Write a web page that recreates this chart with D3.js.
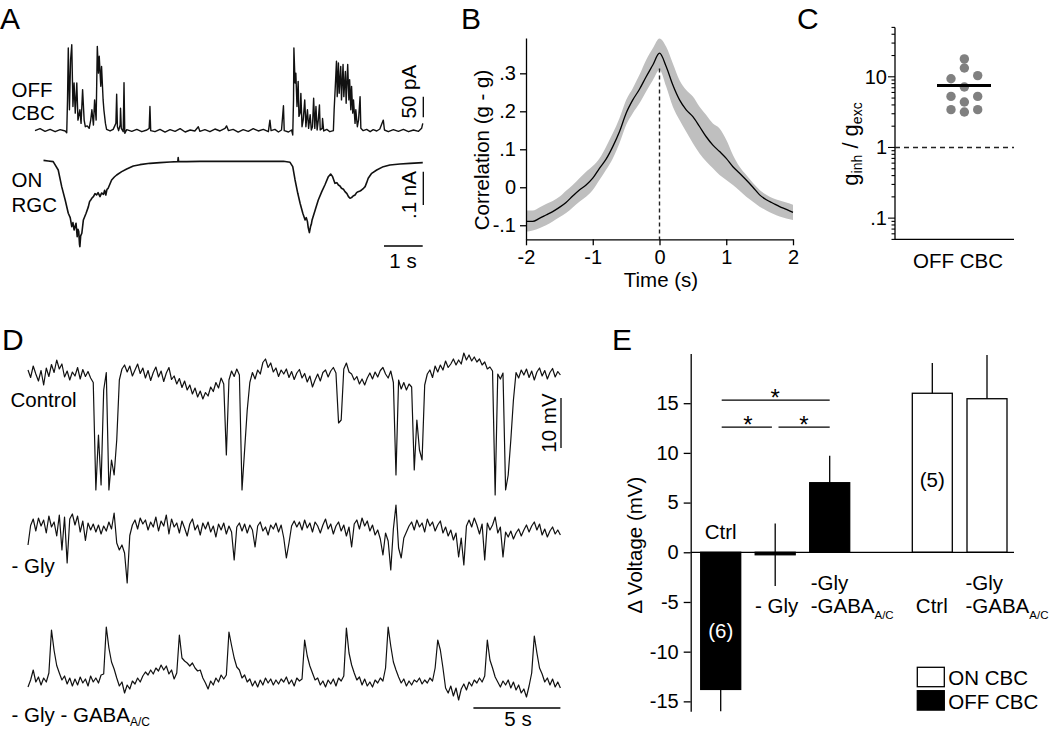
<!DOCTYPE html>
<html><head><meta charset="utf-8">
<script src="https://cdn.jsdelivr.net/npm/d3@7"></script>
<style>body{margin:0;background:#fff}svg{display:block}</style>
</head><body><svg id="fig" width="1050" height="730"></svg>
<script>
// ---------------- DATA ----------------
// Panel A: OFF CBC current trace [time s, pA]
const offCBC = [[0.00,-1.6],[0.13,3.3],[0.26,-3.3],[0.39,1.6],[0.52,-4.1],[0.65,0.8],[0.78,-2.4],[0.82,-6.5],
[0.84,73],[0.86,199],[0.89,49],[0.92,171],[0.95,207],[0.98,57],[1.01,114],[1.04,41],[1.08,114],[1.11,24],[1.16,49],[1.19,16],[1.23,98],[1.27,24],[1.30,8],[1.35,10],[1.40,4],[1.44,24],[1.47,49],[1.51,12],[1.54,73],[1.58,24],[1.61,203],[1.64,138],[1.66,179],[1.70,106],[1.72,154],[1.76,73],[1.78,49],[1.82,16],[1.85,1.6],[1.94,-2.4],[2.02,1.6],[2.09,16],[2.11,87],[2.13,8],[2.16,-1.6],[2.20,12],[2.21,53],[2.23,4],[2.28,-4.1],[2.30,115],[2.32,-8],[2.37,0.8],[2.50,-3.3],[2.63,1.6],[2.76,-4.1],[2.89,0],[2.95,4],[2.97,57],[2.99,-1.6],[3.10,-4.1],
[3.23,1.6],[3.36,-4.9],[3.49,0.8],[3.62,-3.3],[3.75,3.3],[3.88,-4.9],[4.01,0],[4.13,-2.4],[4.22,8],[4.26,-3.3],[4.39,0.8],[4.52,-4.1],[4.65,2.4],[4.78,-2.4],[4.91,4],[4.95,10],[5.00,-1.6],[5.12,1.6],[5.25,-4.9],[5.38,0.8],[5.51,-3.3],[5.64,3.3],[5.77,-2.4],[5.90,1.6],[6.03,-4.1],[6.07,24],[6.10,-1.6],[6.20,1.6],[6.29,-4.9],[6.37,0],[6.42,59],[6.44,-1.6],[6.55,-4.9],[6.63,0],[6.66,-12],[6.68,73],[6.69,199],[6.72,114],[6.74,138],[6.77,57],[6.80,118],[6.82,33],[6.85,41],[6.87,89],[6.90,8],[6.93,24],[6.97,73],[7.00,8],[7.04,49],[7.07,4],[7.11,37],[7.14,0],[7.17,8],[7.20,77],[7.23,4],[7.26,57],[7.29,0],[7.32,24],[7.35,61],[7.37,0],[7.42,4],[7.43,28],[7.46,-2.4],[7.54,1.6],[7.62,-4.1],[7.71,-1.6],[7.73,49],[7.76,106],[7.79,167],[7.81,81],[7.84,163],[7.86,89],[7.90,154],[7.92,73],[7.96,159],[7.98,81],[8.02,142],[8.04,65],[8.08,159],[8.11,73],[8.13,122],[8.16,49],[8.18,106],[8.21,41],[8.23,73],[8.27,16],[8.29,49],[8.33,8],[8.36,24],[8.40,81],[8.42,4],[8.48,-1.6],[8.57,1.6],[8.66,-4.1],[8.74,0.8],[8.83,-2.4],[8.91,2.4],[9.00,24],[9.03,0],[9.13,-4.1],[9.26,0.8],[9.39,-3.3],[9.52,1.6],[9.65,-4.1],[9.78,0],[9.91,-3.3],[9.99,4],[10.02,16]];
// Panel A: ON RGC current trace [time s, pA]
const onRGC = [[0.22,2],[0.34,0],[0.47,-2],[0.60,-27],[0.69,-77],[0.78,-117],[0.86,-157],[0.91,-170],[0.95,-197],[0.98,-185],[1.01,-207],[1.04,-195],[1.06,-187],[1.09,-227],[1.11,-205],[1.13,-212],[1.15,-250],[1.16,-257],[1.18,-225],[1.21,-217],[1.25,-177],[1.32,-157],[1.38,-137],[1.41,-122],[1.44,-117],[1.48,-110],[1.51,-107],[1.55,-98],[1.59,-102],[1.63,-95],[1.68,-107],[1.72,-96],[1.77,-100],[1.80,-88],[1.83,-102],[1.86,-85],[1.89,-82],[1.98,-57],[2.05,-48],[2.11,-42],[2.24,-32],[2.37,-24],[2.54,-15],[2.71,-11],[2.97,-7],[3.23,-5],[3.49,-3],[3.69,-2],[3.70,10],[3.71,-2],[3.92,-2],[4.26,-1],[4.69,-1],[5.12,-1],[5.56,-1],[5.99,-1],[6.42,-1],[6.59,-4],[6.66,-17],[6.72,-57],[6.79,-97],[6.85,-127],[6.92,-157],[6.98,-177],[7.01,-170],[7.04,-182],[7.06,-200],[7.09,-215],[7.12,-197],[7.14,-190],[7.16,-177],[7.24,-147],[7.32,-117],[7.41,-92],[7.49,-72],[7.58,-47],[7.64,-39],[7.69,-47],[7.75,-67],[7.80,-65],[7.84,-72],[7.88,-75],[7.92,-82],[7.97,-85],[8.01,-92],[8.06,-98],[8.10,-107],[8.14,-112],[8.18,-110],[8.22,-105],[8.27,-102],[8.31,-95],[8.35,-92],[8.40,-90],[8.44,-87],[8.49,-82],[8.53,-77],[8.57,-65],[8.61,-52],[8.70,-37],[8.83,-27],[9.00,-17],[9.17,-12],[9.43,-9],[9.69,-7],[10.02,-5]];

// Panel B: cross-correlation (time lag, mean, upper and lower SEM)
const corrT = [-2,-1.9,-1.8,-1.7,-1.6,-1.5,-1.4,-1.3,-1.2,-1.1,-1,-0.9,-0.8,-0.7,-0.6,-0.5,-0.4,-0.3,-0.2,-0.1,0,0.1,0.2,0.3,0.4,0.5,0.6,0.7,0.8,0.9,1,1.1,1.2,1.3,1.4,1.5,1.6,1.7,1.8,1.9,2];
const corrMean = [-0.090,-0.090,-0.082,-0.073,-0.064,-0.053,-0.040,-0.023,-0.007,0.006,0.024,0.050,0.074,0.107,0.146,0.195,0.230,0.258,0.291,0.322,0.353,0.318,0.269,0.230,0.204,0.186,0.160,0.133,0.111,0.094,0.076,0.054,0.037,0.019,0.000,-0.020,-0.033,-0.042,-0.051,-0.058,-0.066];
const corrHi = [-0.061,-0.061,-0.053,-0.044,-0.036,-0.025,-0.009,0.006,0.024,0.041,0.056,0.076,0.107,0.142,0.182,0.230,0.261,0.296,0.335,0.366,0.392,0.370,0.326,0.282,0.256,0.239,0.212,0.190,0.168,0.155,0.125,0.085,0.054,0.032,0.011,-0.007,-0.020,-0.029,-0.035,-0.040,-0.046];
const corrLo = [-0.117,-0.114,-0.108,-0.100,-0.090,-0.079,-0.068,-0.053,-0.038,-0.025,-0.007,0.019,0.046,0.076,0.116,0.164,0.195,0.221,0.252,0.282,0.309,0.265,0.212,0.177,0.146,0.116,0.089,0.068,0.050,0.032,0.019,0.006,-0.009,-0.025,-0.038,-0.051,-0.061,-0.070,-0.077,-0.082,-0.086];
const corrTicksX = [-2,-1,0,1,2];
const corrTicksY = [-0.1,0,0.1,0.2,0.3];

// Panel C: ginh/gexc ratios, swarm column of each cell, and mean
const ratio = [17.9,13.3,9.37,10.4,7.16,5.28,5.28,4.40,3.43,3.18,3.43];
const ratioCol = [0,0,-1,1,0,-1,1,0,-1,0,1];
const ratioMean = 7.55;
const ratioTicks = [0.1,1,10];
const ratioTickLabels = ['.1','1','10'];

// Panel D: membrane voltage traces (mV re. resting level), sampled every 0.15 s
const dtD = 0.15;
const vCtrl = [1.0,-0.5,1.8,0.2,-1.2,0.9,-2.0,1.4,-0.3,2.1,
0.5,3.0,1.2,2.2,-0.4,0.8,-1.0,0.6,-0.2,1.5,
-0.8,1.1,-0.3,0.7,-0.6,-1.5,-23,-12,-22,-3,
0.5,-23,-17,-20,-13,-1,1.2,2.0,0.6,1.8,
-0.2,1.0,2.2,0.3,1.4,-0.6,0.9,-1.1,0.5,1.6,
-0.4,0.8,-1.3,0.4,1.5,-0.9,-0.2,-1.8,-0.7,-2.5,
-1.2,-3.0,-2.0,-3.8,-2.6,-4.4,-3.2,-4.8,-3.5,-4.2,
-2.4,-3.3,-1.5,-2.6,-0.6,-1.8,-16,-1.0,0.8,-0.3,
1.2,0.0,-23,-15,-7,-1.5,0.5,-0.8,1.0,0.2,
2.5,3.2,1.5,2.4,0.6,1.4,-0.3,1.0,0.2,1.2,
-0.5,0.7,-0.9,0.4,1.1,-0.6,0.3,-1.4,-0.2,-2.4,
-1.0,0.2,-1.2,0.5,1.0,-0.4,0.8,1.5,0.4,-9.6,
-9.0,1.2,2.4,0.6,0.2,-1.0,-0.3,-1.8,-0.8,-2.0,
-0.6,0.4,-0.8,0.6,-0.4,0.9,1.5,0.2,-0.6,0.8,
-1.5,-20,-1.0,-2.8,-1.5,-3.0,-1.8,-2.4,-19,-9,
-15,-17,-2,0.2,1.0,-0.5,1.8,0.6,2.0,1.0,
2.8,1.5,2.2,3.2,2.0,3.0,2.2,4.4,3.0,4.0,
2.8,3.6,2.6,3.2,2.0,2.6,1.2,1.6,0.8,-24,
0.2,-0.8,0.4,-23,-20,-13,-5,0.5,-0.6,1.0,
0.0,1.2,-0.5,0.8,-1.0,0.6,1.4,-0.2,0.9,-0.8,
0.5,1.3,-0.4,0.7,0.0];
const vGly = [-3.4,0.5,1.8,-0.6,2.0,0.4,1.6,-1.0,2.4,0.2,
1.2,-1.6,2.6,-4.4,2.2,-7,1.8,2.8,0.6,2.4,
-0.8,1.4,-2.5,1.0,-0.4,0.8,-0.8,0.6,-1.2,0.4,
-0.6,1.2,-0.2,3.0,-3.0,-4.4,-3.4,-5.0,-11,-1.5,
0.6,1.6,-0.2,2.0,0.8,1.6,-0.4,1.2,0.2,2.2,
-0.6,1.4,0.4,2.6,-1.2,1.8,0.2,1.0,-1.0,1.4,
0.0,-1.6,0.8,1.8,-0.4,0.6,-1.4,1.0,-0.2,1.2,
-0.8,0.4,-1.8,0.8,-0.4,1.0,-1.2,0.4,-0.8,-6.4,
0.2,1.0,-0.6,0.8,-1.0,0.6,-0.4,-3.8,0.4,1.2,
-0.6,0.2,-1.4,0.6,-0.2,1.0,-0.8,0.6,-2.0,-6.0,
-3.0,0.4,1.4,0.2,1.2,-0.4,1.6,0.0,1.0,-0.8,
1.2,0.4,-1.0,0.6,1.8,-0.2,0.8,-1.2,0.4,1.2,
-0.6,0.6,-1.6,0.2,-3.8,0.8,1.6,-0.2,2.0,0.4,
1.4,-0.6,0.6,-1.4,-0.4,-2.2,-5.4,-1.0,-2.6,-8.4,
-0.2,4.6,-4.0,-6.0,-2.0,-0.8,0.4,1.2,-0.4,1.6,
0.2,1.0,-0.8,1.8,0.4,1.2,-0.6,0.6,1.4,-1.0,
0.2,-1.6,-0.4,-2.4,-1.0,-5.8,-2.0,-7.4,0.4,1.6,
0.2,2.0,0.6,-1.2,0.8,-6.4,1.0,-0.4,0.6,2.2,
-1.0,0.2,-5.8,-0.8,-1.8,-0.6,-2.2,-1.0,-0.2,-1.6,
-0.4,0.6,-0.8,0.4,1.2,-0.4,0.8,-1.4,-0.2,-1.8,
-0.6,0.2,-1.2,-0.4,-1.4];
const vGlyGaba = [-0.8,0.6,2.6,0.2,1.2,-0.4,1.0,0.2,2.0,10.6,
6.5,3.5,2.0,0.6,1.4,-0.2,1.0,-0.6,0.8,-0.4,
1.2,0.0,0.8,-0.6,1.4,0.2,1.0,0.0,1.6,1.8,
11.2,7.0,4.2,2.8,1.0,-0.6,0.2,-2.0,-0.4,-1.2,
0.4,-0.2,1.0,0.2,1.4,2.2,1.6,2.6,1.8,3.0,
2.4,3.6,2.6,3.4,1.8,2.6,0.8,2.0,9.6,5.0,
4.4,4.0,3.4,4.0,3.0,2.4,2.6,1.0,0.0,-1.2,
0.4,-0.4,1.0,0.2,1.6,0.8,1.6,10.2,7.5,5.0,
3.2,2.6,1.0,1.6,0.2,0.8,-0.6,0.4,-0.8,0.6,
-0.4,1.0,0.0,0.8,-0.4,0.6,-0.2,0.8,0.2,1.2,
-0.2,0.6,-0.6,1.0,0.4,0.8,8.6,5.4,3.4,2.0,
0.6,1.0,-0.4,0.4,-0.8,0.6,-0.2,0.8,-0.6,1.0,
0.4,1.4,11.0,6.0,3.6,2.0,0.6,1.2,-0.4,0.8,
-0.6,0.2,-0.8,0.6,0.0,1.0,0.4,3.0,11.2,7.4,
4.2,2.6,1.2,0.0,0.8,-0.6,0.4,-0.4,0.6,0.2,
1.0,-0.2,0.6,0.0,1.0,0.4,3.0,8.6,6.6,3.0,
-1.0,-2.0,-0.6,-2.6,-1.0,-3.4,-1.2,-0.2,-1.4,0.2,
-0.6,0.6,0.0,1.0,0.2,1.4,8.6,4.6,3.0,1.2,
0.2,-0.8,0.4,-0.4,0.6,-1.0,0.2,-1.4,-0.4,-2.0,
-1.2,-2.8,-0.6,2.0,9.4,6.0,3.0,1.8,0.2,1.0,
-0.4,0.8,-0.8,0.2,-1.0];

// Panel E: change in voltage (mV) mean and SEM
const offConds = ['Ctrl','- Gly','-Gly -GABA'];
const offMean = [-13.8,-0.25,7.0];
const offSem = [2.2,3.15,2.7];
const onConds = ['Ctrl','-Gly -GABA'];
const onMean = [16.0,15.45];
const onSem = [3.05,4.4];
const offN = '(6)', onN = '(5)';
const voltTicks = [-15,-10,-5,0,5,10,15];
const legendItems = ['ON CBC','OFF CBC'];

// ---------------- DRAWING ----------------
const FONT = '"Liberation Sans", Arial, Helvetica, sans-serif';
const FS = 20.5, TFS = 20;
const svg = d3.select('#fig');
svg.append('rect').attr('width',1050).attr('height',730).attr('fill','#fff');

function txt(x,y,s,opt={}){
  const t = svg.append('text').attr('x',x).attr('y',y).text(s)
    .attr('font-family',FONT).attr('font-size',opt.fs||FS)
    .attr('fill',opt.fill||'#000').attr('text-anchor',opt.anchor||'start');
  if(opt.rot) t.attr('transform',`rotate(-90,${x},${y})`);
  return t;
}
function styleAxis(g,fs){
  g.attr('font-family',FONT).attr('font-size',fs);
  g.selectAll('path.domain').attr('stroke','#000').attr('stroke-width',1.3);
  g.selectAll('.tick line').attr('stroke','#000').attr('stroke-width',1.3);
  g.selectAll('.tick text').attr('fill','#000');
}
const fmtDot = d => d===0 ? '0' : (d<0?'-':'') + String(Math.abs(d)).replace(/^0/,'');
const fmtInt = d => String(d);

// panel letters
[['A',0,29],['B',461,29],['C',797,29],['D',2,350],['E',612,350]].forEach(p=>txt(p[1],p[2],p[0],{fs:30}));

// ===== Panel A =====
const xA = d3.scaleLinear().domain([0,10]).range([35,422]);
const yOff = d3.scaleLinear().domain([0,50]).range([130,109.4]);
const yOn = d3.scaleLinear().domain([0,-100]).range([161,194.3]);
svg.append('path').datum(offCBC)
  .attr('d',d3.line().x(d=>xA(d[0])).y(d=>yOff(d[1])))
  .attr('fill','none').attr('stroke','#111').attr('stroke-width',1.4).attr('stroke-linejoin','round');
svg.append('path').datum(onRGC)
  .attr('d',d3.line().x(d=>xA(d[0])).y(d=>yOn(d[1])))
  .attr('fill','none').attr('stroke','#111').attr('stroke-width',1.6).attr('stroke-linejoin','round');
txt(11.5,97,'OFF'); txt(11.5,120,'CBC');
txt(11.5,187,'ON'); txt(11.5,212,'RGC');
// scale bars
const bar50 = yOff(0)-yOff(50), bar100 = yOn(-100)-yOn(0), bar1s = xA(1)-xA(0);
svg.append('line').attr('x1',423.3).attr('x2',423.3).attr('y1',117.3).attr('y2',117.3-bar50).attr('stroke','#000').attr('stroke-width',1.3);
svg.append('line').attr('x1',423.3).attr('x2',423.3).attr('y1',171.7).attr('y2',171.7+bar100).attr('stroke','#000').attr('stroke-width',1.3);
svg.append('line').attr('x1',422.7-bar1s).attr('x2',422.7).attr('y1',246).attr('y2',246).attr('stroke','#000').attr('stroke-width',1.3);
txt(416,91.7,'50 pA',{anchor:'middle',rot:true});
txt(416,195,'.1 nA',{anchor:'middle',rot:true});
txt(403,268,'1 s',{anchor:'middle'});

// ===== Panel B =====
const xB = d3.scaleLinear().domain([-2,2]).range([526,793]);
const yB = d3.scaleLinear().domain([-0.137,0.393]).range([239.3,38]);
const corr = corrT.map((t,i)=>({t,m:corrMean[i],hi:corrHi[i],lo:corrLo[i]}));
svg.append('path').datum(corr)
  .attr('d',d3.area().x(d=>xB(d.t)).y0(d=>yB(d.lo)).y1(d=>yB(d.hi)).curve(d3.curveMonotoneX))
  .attr('fill','#bfbfbf').attr('stroke','none');
svg.append('path').datum(corr)
  .attr('d',d3.line().x(d=>xB(d.t)).y(d=>yB(d.m)).curve(d3.curveMonotoneX))
  .attr('fill','none').attr('stroke','#000').attr('stroke-width',1.3);
svg.append('line').attr('x1',xB(0)).attr('x2',xB(0)).attr('y1',yB(0.313)).attr('y2',yB(-0.137))
  .attr('stroke','#222').attr('stroke-width',1.4).attr('stroke-dasharray','4,3');
const gBx = svg.append('g').attr('transform',`translate(0,${yB(-0.137)})`)
  .call(d3.axisBottom(xB).tickValues(corrTicksX).tickFormat(fmtInt).tickSize(6).tickSizeOuter(0).tickPadding(5));
styleAxis(gBx,TFS);
const gBy = svg.append('g').attr('transform',`translate(${xB(-2)},0)`)
  .call(d3.axisLeft(yB).tickValues(corrTicksY).tickFormat(fmtDot).tickSize(6).tickSizeOuter(0).tickPadding(4));
styleAxis(gBy,TFS);
txt(661,287,'Time (s)',{anchor:'middle'});
txt(489,150,'Correlation (g - g)',{anchor:'middle',rot:true});

// ===== Panel C =====
const yC = d3.scaleLog().domain([0.05,50]).range([239.4,27.4]);
const xC = d3.scaleLinear().domain([-1,1]).range([951,977.7]);
const cAxisX = 895, cAxisRight = 1014;
svg.append('line').attr('x1',cAxisX).attr('x2',cAxisX).attr('y1',yC(50)).attr('y2',yC(0.05)).attr('stroke','#000').attr('stroke-width',1.3);
svg.append('line').attr('x1',cAxisX).attr('x2',cAxisRight).attr('y1',yC(0.05)).attr('y2',yC(0.05)).attr('stroke','#000').attr('stroke-width',1.3);
yC.ticks().forEach(v=>{
  const major = ratioTicks.some(m=>Math.abs(m-v)<1e-9);
  svg.append('line').attr('x1',cAxisX-(major?7:3.5)).attr('x2',cAxisX).attr('y1',yC(v)).attr('y2',yC(v))
    .attr('stroke','#000').attr('stroke-width',1.1);
});
ratioTicks.forEach((v,i)=>txt(887,yC(v),ratioTickLabels[i],{anchor:'end',fs:TFS}).attr('dominant-baseline','central'));
svg.append('line').attr('x1',cAxisX).attr('x2',cAxisRight).attr('y1',yC(1)).attr('y2',yC(1))
  .attr('stroke','#222').attr('stroke-width',1.4).attr('stroke-dasharray','5,4');
svg.selectAll('circle.ratio').data(ratio).enter().append('circle').attr('class','ratio')
  .attr('cx',(d,i)=>xC(ratioCol[i])).attr('cy',d=>yC(d)).attr('r',4.7).attr('fill','#808080');
svg.append('line').attr('x1',937).attr('x2',991).attr('y1',yC(ratioMean)).attr('y2',yC(ratioMean))
  .attr('stroke','#000').attr('stroke-width',3);
txt(958,268,'OFF CBC',{anchor:'middle'});
const gl = svg.append('text').attr('transform','translate(858,144) rotate(-90)').attr('text-anchor','middle')
  .attr('font-family',FONT).attr('font-size',22).attr('fill','#000');
gl.append('tspan').text('g');
gl.append('tspan').text('inh').attr('font-size',14).attr('dy',4);
gl.append('tspan').text(' / g').attr('dy',-4);
gl.append('tspan').text('exc').attr('font-size',14).attr('dy',4);

// ===== Panel D =====
const xD = d3.scaleLinear().domain([0,30.6]).range([28,560.4]);
const yCtrl = d3.scaleLinear().domain([0,10]).range([375,325]);
const yGly = d3.scaleLinear().domain([0,10]).range([528,478]);
const yGaba = d3.scaleLinear().domain([0,10]).range([683,633]);
[[vCtrl,yCtrl],[vGly,yGly],[vGlyGaba,yGaba]].forEach(([arr,ys])=>{
  svg.append('path').datum(arr)
    .attr('d',d3.line().x((d,i)=>xD(i*dtD)).y(d=>ys(d)))
    .attr('fill','none').attr('stroke','#111').attr('stroke-width',1.2).attr('stroke-linejoin','round');
});
txt(10.5,406.5,'Control');
txt(11.5,573,'- Gly');
const gg = txt(11.5,722,'- Gly - GABA');
gg.append('tspan').text('A/C').attr('font-size',12).attr('dy',4);
const bar10 = yCtrl(0)-yCtrl(10), bar5s = xD(5)-xD(0);
svg.append('line').attr('x1',561).attr('x2',561).attr('y1',448).attr('y2',448-bar10).attr('stroke','#000').attr('stroke-width',1.3);
txt(556,423,'10 mV',{anchor:'middle',rot:true});
svg.append('line').attr('x1',560.4-bar5s).attr('x2',560.4).attr('y1',708).attr('y2',708).attr('stroke','#000').attr('stroke-width',1.3);
txt(518,725.5,'5 s',{anchor:'middle'});

// ===== Panel E =====
const yE = d3.scaleLinear().domain([-16,20]).range([711.3,353.5]);
const xOff = d3.scalePoint().domain(offConds).range([720.7,829.7]);
const xOn = d3.scalePoint().domain(onConds).range([932.3,987]);
const bw = 40;
const eAxisX = 690.7;
function errBars(conds,means,sems,xs){
  conds.forEach((c,i)=>{
    svg.append('line').attr('x1',xs(c)).attr('x2',xs(c))
      .attr('y1',yE(Math.max(-16,means[i]-sems[i]))).attr('y2',yE(Math.min(20,means[i]+sems[i])))
      .attr('stroke','#000').attr('stroke-width',1.3);
  });
}
errBars(offConds,offMean,offSem,xOff);
errBars(onConds,onMean,onSem,xOn);
offConds.forEach((c,i)=>{
  svg.append('rect').attr('x',xOff(c)-bw/2).attr('width',bw)
    .attr('y',yE(Math.max(0,offMean[i]))).attr('height',Math.abs(yE(offMean[i])-yE(0)))
    .attr('fill','#000').attr('stroke','#000').attr('stroke-width',1.3);
});
onConds.forEach((c,i)=>{
  svg.append('rect').attr('x',xOn(c)-bw/2).attr('width',bw)
    .attr('y',yE(Math.max(0,onMean[i]))).attr('height',Math.abs(yE(onMean[i])-yE(0)))
    .attr('fill','#fff').attr('stroke','#000').attr('stroke-width',1.3);
});
svg.append('line').attr('x1',eAxisX).attr('x2',1014).attr('y1',yE(0)).attr('y2',yE(0)).attr('stroke','#000').attr('stroke-width',1.3);
const gEy = svg.append('g').attr('transform',`translate(${eAxisX},0)`)
  .call(d3.axisLeft(yE).tickValues(voltTicks).tickFormat(fmtInt).tickSize(7).tickSizeOuter(0).tickPadding(5));
styleAxis(gEy,TFS);
txt(642,545,'\u0394 Voltage (mV)',{anchor:'middle',rot:true});
// category labels
txt(xOff('Ctrl'),539,'Ctrl',{anchor:'middle'});
txt(xOff('- Gly')+1.5,613,'- Gly',{anchor:'middle'});
function twoLine(x){
  txt(x,589.5,'-Gly');
  const t = txt(x,613,'-GABA');
  t.append('tspan').text('A/C').attr('font-size',11.5).attr('dy',6);
}
twoLine(xOff('-Gly -GABA')-bw/2+1);
txt(xOn('Ctrl')-0.5,613,'Ctrl',{anchor:'middle'});
twoLine(xOn('-Gly -GABA')-bw/2-1.5);
// n values
txt(xOff('Ctrl'),637.5,offN,{anchor:'middle',fill:'#fff'});
txt(xOn('Ctrl'),486.5,onN,{anchor:'middle'});
// significance
const sigHi = yE(15.3), sigLo = yE(12.6);
const sl = (x1,x2,y)=>svg.append('line').attr('x1',x1).attr('x2',x2).attr('y1',y).attr('y2',y).attr('stroke','#000').attr('stroke-width',1.2);
sl(xOff('Ctrl')+1,xOff('-Gly -GABA'),sigHi);
sl(xOff('Ctrl')+1,xOff('- Gly')-3.3,sigLo);
sl(xOff('- Gly')+3.3,xOff('-Gly -GABA'),sigLo);
txt(xOff('- Gly'),sigHi+5.6,'*',{anchor:'middle',fs:24});
txt((xOff('Ctrl')+xOff('- Gly'))/2,sigLo+5.9,'*',{anchor:'middle',fs:24});
txt((xOff('- Gly')+xOff('-Gly -GABA'))/2+1.5,sigLo+5.9,'*',{anchor:'middle',fs:24});
// legend
legendItems.forEach((s,i)=>{
  svg.append('rect').attr('x',917.3).attr('y',667.3+i*23.4).attr('width',27).attr('height',19.4)
    .attr('fill',i===0?'#fff':'#000').attr('stroke','#000').attr('stroke-width',1.3);
  txt(948.3,684.5+i*24,s);
});
</script></body></html>
